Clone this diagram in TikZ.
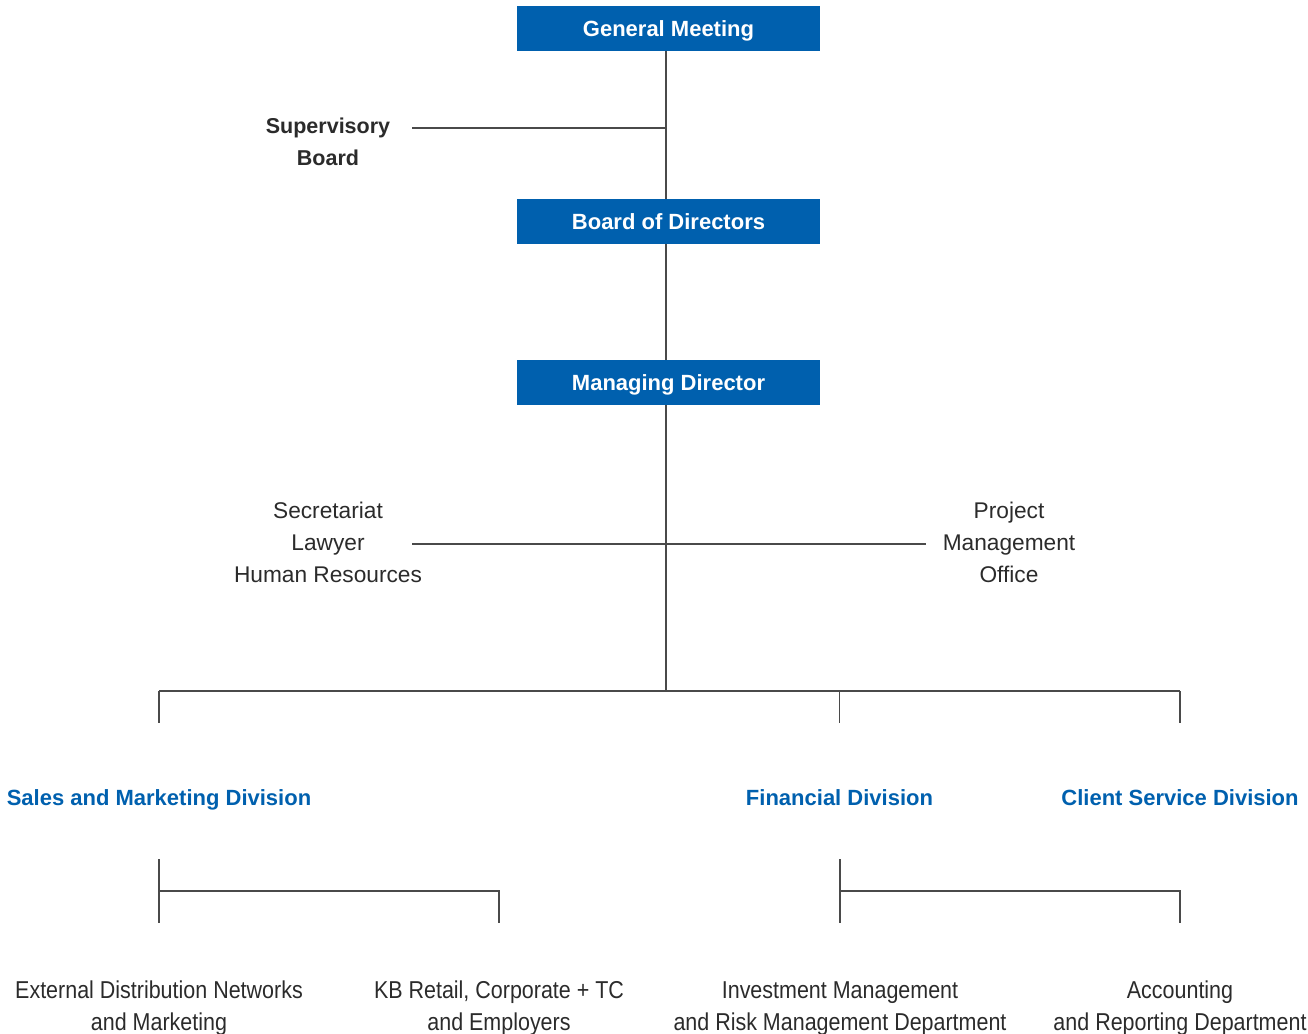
\documentclass[tikz,border=0pt]{standalone}
\usepackage{fontspec}
\setmainfont{Liberation Sans}
\newfontfamily\narrowfont[FakeStretch=0.88]{Liberation Sans}
\definecolor{kbblue}{HTML}{0060AE}
\definecolor{ink}{HTML}{2B2B2B}
\definecolor{rule}{HTML}{4A4A4A}
\tikzset{
  hbox/.style={fill=kbblue,text=white,inner sep=0pt,minimum width=303pt,minimum height=45pt,
    text height=15.5pt,text depth=0pt,font=\bfseries\fontsize{22}{25}\selectfont},
  staff/.style={text=ink,align=center,inner sep=0pt,font=\fontsize{22.7}{32}\selectfont},
  div/.style={text=kbblue,inner sep=0pt,text height=15.5pt,text depth=0pt,
    font=\bfseries\fontsize{22}{25}\selectfont},
  dept/.style={text=ink,align=center,inner sep=0pt,font=\narrowfont\fontsize{24.4}{32}\selectfont},
  link/.style={draw=rule,line width=1.3pt}
}
\begin{document}
\begin{tikzpicture}[x=1pt,y=-1pt]
\useasboundingbox (0,0) rectangle (1308,1033);
\coordinate (trunk) at (666,0);
\node[hbox] (gm) at (668.5,28.5) {General Meeting};
\node[hbox] (bod) at (668.5,221.5) {Board of Directors};
\node[hbox] (md) at (668.5,382.5) {Managing Director};
\node[staff,font=\bfseries\fontsize{21.5}{32}\selectfont] (sb) at (328,142) {Supervisory\\Board};
\node[staff] (sec) at (328,542) {Secretariat\\Lawyer\\Human Resources};
\node[staff] (pmo) at (1009,542) {Project\\Management\\Office};
\coordinate (sbR) at (412,128);
\coordinate (secR) at (412,544);
\coordinate (pmoL) at (926,544);
\coordinate (bar) at (666,691);
\draw[link] (gm.south -| trunk) -- (bod.north -| trunk);
\draw[link] (sbR) -- (sbR -| trunk);
\draw[link] (bod.south -| trunk) -- (md.north -| trunk);
\draw[link] (md.south -| trunk) -- (bar);
\draw[link] (secR) -- (pmoL);
\foreach \n/\x/\t in {sm/159/Sales and Marketing Division,fin/839.5/Financial Division,cs/1180/Client Service Division}{
  \node[div] (\n) at (\x,798) {\t};
  \draw[link] (\n |- bar) -- (\n |- 0,723);
}
\draw[link] (sm |- bar) -- (cs |- bar);
\node[dept] (ext) at (159,1008) {External Distribution Networks\\and Marketing};
\node[dept] (kb) at (499,1008) {KB Retail, Corporate + TC\\and Employers};
\node[dept] (inv) at (840,1008.5) {Investment Management\\and Risk Management Department};
\node[dept] (acc) at (1180,1008) {Accounting\\and Reporting Department};
\foreach \a/\b in {ext/kb,inv/acc}{
  \draw[link] (\a |- 0,859) -- (\a |- 0,923);
  \draw[link] (\a |- 0,891) -| (\b |- 0,923);
}
\end{tikzpicture}
\end{document}
